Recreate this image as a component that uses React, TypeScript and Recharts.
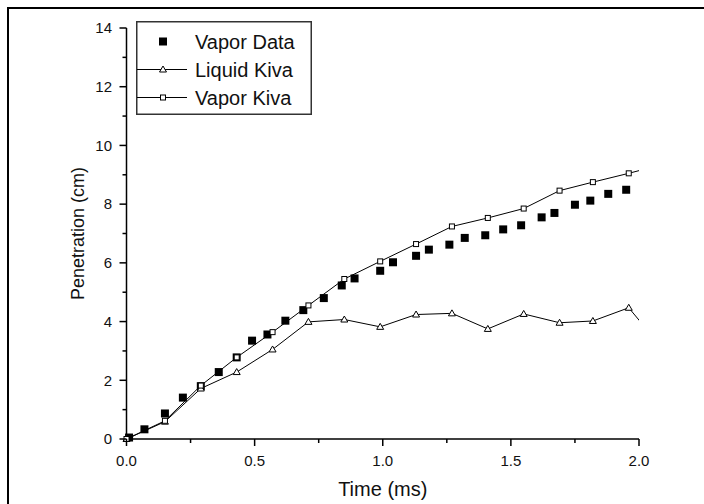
import { ComposedChart, Line, Scatter, XAxis, YAxis, Legend } from "recharts";

// measured data (spray tip penetration)
const VAPOR_DATA_TIME = [
  0.01, 0.07, 0.15, 0.22, 0.29, 0.36, 0.43, 0.49, 0.55, 0.62, 0.69, 0.77, 0.84, 0.89, 0.99,
  1.04, 1.13, 1.18, 1.26, 1.32, 1.4, 1.47, 1.54, 1.62, 1.67, 1.75, 1.81, 1.88, 1.95,
];
const VAPOR_DATA_PEN = [
  0.05, 0.33, 0.87, 1.41, 1.8, 2.28, 2.78, 3.35, 3.56, 4.03, 4.39, 4.8, 5.23, 5.47, 5.73,
  6.02, 6.24, 6.45, 6.62, 6.85, 6.94, 7.14, 7.28, 7.55, 7.7, 7.98, 8.12, 8.35, 8.49,
];

// KIVA output, last sample lies past the axis end
const KIVA_TIME = [0, 0.15, 0.29, 0.43, 0.57, 0.71, 0.85, 0.99, 1.13, 1.27, 1.41, 1.55, 1.69, 1.82, 1.96, 2.1];
const LIQUID_KIVA_PEN = [0, 0.59, 1.72, 2.28, 3.05, 3.99, 4.07, 3.82, 4.24, 4.28, 3.75, 4.26, 3.96, 4.02, 4.47, 3.0];
const VAPOR_KIVA_PEN = [0, 0.62, 1.82, 2.78, 3.64, 4.55, 5.45, 6.05, 6.64, 7.24, 7.53, 7.85, 8.46, 8.75, 9.05, 9.37];

const X_TICKS = [0, 0.25, 0.5, 0.75, 1, 1.25, 1.5, 1.75, 2];
const X_LABELS = [0, 0.5, 1, 1.5, 2];
const Y_TICKS = [0, 1, 2, 3, 4, 5, 6, 7, 8, 9, 10, 11, 12, 13, 14];
const Y_LABELS = [0, 2, 4, 6, 8, 10, 12, 14];
const LEGEND_NAMES = ["Vapor Data", "Liquid Kiva", "Vapor Kiva"];

const FONT = "'Liberation Sans', Arial, Helvetica, sans-serif";

const vaporData = VAPOR_DATA_TIME.map((t, i) => ({ t, p: VAPOR_DATA_PEN[i] }));
const liquidKiva = KIVA_TIME.map((t, i) => ({ t, p: LIQUID_KIVA_PEN[i] }));
const vaporKiva = KIVA_TIME.map((t, i) => ({ t, p: VAPOR_KIVA_PEN[i] }));

const XTick = (props: any) => {
  const { x, y, payload } = props;
  const major = X_LABELS.includes(payload.value);
  return (
    <g>
      <line x1={x} x2={x} y1={y} y2={y + (major ? 7 : 4)} stroke="#000" strokeWidth={1.5} />
      {major && (
        <text x={x} y={y + 16.5} dy="0.71em" textAnchor="middle" fontSize={15} fill="#111" fontFamily={FONT}>
          {payload.value.toFixed(1)}
        </text>
      )}
    </g>
  );
};

const YTick = (props: any) => {
  const { x, y, payload } = props;
  const major = Y_LABELS.includes(payload.value);
  return (
    <g>
      <line x1={x - (major ? 7 : 4)} x2={x} y1={y} y2={y} stroke="#000" strokeWidth={1.5} />
      {major && (
        <text x={x - 14.5} y={y} dy="0.355em" textAnchor="end" fontSize={15} fill="#111" fontFamily={FONT}>
          {payload.value}
        </text>
      )}
    </g>
  );
};

const Triangle = ({ cx, cy }: { cx: number; cy: number }) => (
  <polygon
    points={`${cx},${cy - 3.5} ${cx + 3.5},${cy + 2.5} ${cx - 3.5},${cy + 2.5}`}
    fill="#fff"
    stroke="#000"
    strokeWidth={1}
  />
);

const OpenSquare = ({ cx, cy }: { cx: number; cy: number }) => (
  <rect x={cx - 2.5} y={cy - 2.5} width={5} height={5} fill="#fff" stroke="#000" strokeWidth={1} />
);

const LegendBox = () => (
  <svg width={176} height={94} style={{ display: "block" }}>
    <rect x={0.75} y={0.75} width={174.5} height={92.5} fill="#fff" stroke="#333" strokeWidth={1.5} />
    {LEGEND_NAMES.map((name, i) => {
      const y = 20.5 + i * 28;
      return (
        <g key={name}>
          {i === 0 && <rect x={23} y={y - 4} width={8} height={8} fill="#000" />}
          {i > 0 && <line x1={1} x2={51} y1={y} y2={y} stroke="#000" strokeWidth={1} />}
          {i === 1 && <Triangle cx={27} cy={y} />}
          {i === 2 && <OpenSquare cx={27} cy={y} />}
          <text x={59} y={y} dy="0.355em" fontSize={20} fill="#111" fontFamily={FONT}>
            {name}
          </text>
        </g>
      );
    })}
  </svg>
);

export default function App() {
  return (
    <div style={{ position: "fixed", left: 0, top: 0, width: 704, height: 504, overflow: "hidden", background: "#fff" }}>
      <div
        style={{
          position: "absolute",
          left: 7,
          top: 7,
          width: 1000,
          height: 1000,
          borderLeft: "2px solid #000",
          borderTop: "2px solid #000",
        }}
      />
      <ComposedChart
        width={704}
        height={504}
        margin={{ top: 28, right: 65, bottom: 0, left: 0 }}
        style={{ fontFamily: FONT }}
      >
        <XAxis
          xAxisId="main"
          dataKey="t"
          type="number"
          domain={[0, 2]}
          ticks={X_TICKS}
          interval={0}
          height={65}
          tickSize={0}
          tickMargin={0}
          tickLine={false}
          axisLine={{ stroke: "#000", strokeWidth: 1.5 }}
          tick={XTick}
          label={{ value: "Time (ms)", position: "insideBottom", offset: 8, fontSize: 20, fill: "#111" }}
        />
        <XAxis
          xAxisId="clip"
          orientation="top"
          height={0}
          dataKey="t"
          type="number"
          domain={[0, 2]}
          allowDataOverflow
          hide
        />
        <YAxis
          type="number"
          domain={[0, 14]}
          ticks={Y_TICKS}
          interval={0}
          width={126.5}
          tickSize={0}
          tickMargin={0}
          tickLine={false}
          axisLine={{ stroke: "#000", strokeWidth: 1.5 }}
          tick={YTick}
          label={{ value: "Penetration (cm)", angle: -90, position: "center", dx: 14, fontSize: 18, fill: "#111" }}
        />
        <Legend
          layout="vertical"
          align="center"
          verticalAlign="middle"
          content={LegendBox}
          wrapperStyle={{ left: 136, top: 21, width: 176, height: 94 }}
        />
        <Scatter
          xAxisId="main"
          name="Vapor Data"
          data={vaporData}
          dataKey="p"
          shape="square"
          fill="#000"
          isAnimationActive={false}
        />
        <Line
          xAxisId="clip"
          name="Liquid Kiva"
          data={liquidKiva}
          dataKey="p"
          stroke="#000"
          strokeWidth={1}
          dot={false}
          activeDot={false}
          isAnimationActive={false}
        />
        <Scatter
          xAxisId="main"
          data={liquidKiva.filter((d) => d.t <= 2)}
          dataKey="p"
          shape={(p: any) => <Triangle cx={p.cx} cy={p.cy} />}
          isAnimationActive={false}
        />
        <Line
          xAxisId="clip"
          name="Vapor Kiva"
          data={vaporKiva}
          dataKey="p"
          stroke="#000"
          strokeWidth={1}
          dot={false}
          activeDot={false}
          isAnimationActive={false}
        />
        <Scatter
          xAxisId="main"
          data={vaporKiva.filter((d) => d.t <= 2)}
          dataKey="p"
          shape={(p: any) => <OpenSquare cx={p.cx} cy={p.cy} />}
          isAnimationActive={false}
        />
      </ComposedChart>
    </div>
  );
}
